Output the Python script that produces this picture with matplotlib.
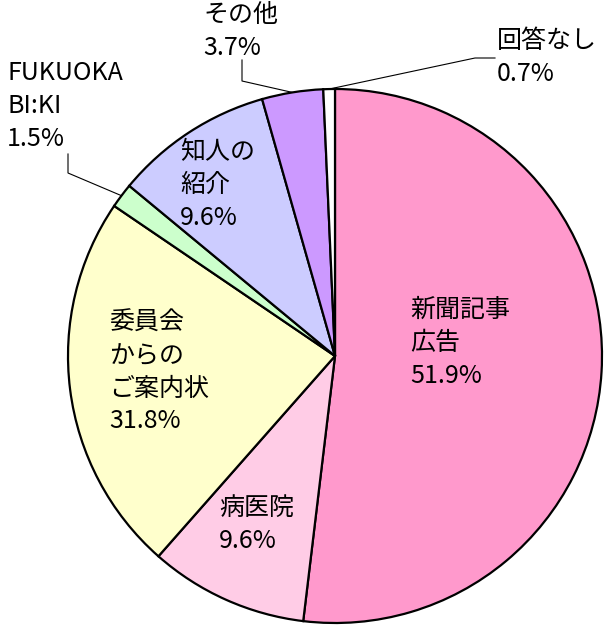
import matplotlib.pyplot as plt
import numpy as np

plt.rcParams['font.family'] = ['Noto Sans CJK JP', 'DejaVu Sans']

# slice values and the printed labels
names = ['新聞記事\n広告', '病医院', '委員会\nからの\nご案内状', 'FUKUOKA\nBI:KI',
         '知人の\n紹介', 'その他', '回答なし']
shares = [51.9, 9.6, 23.0, 1.5, 9.6, 3.7, 0.7]
pct_text = ['51.9%', '9.6%', '31.8%', '1.5%', '9.6%', '3.7%', '0.7%']
colors = ['#FF99CC', '#FFCCE6', '#FFFFCC', '#CCFFCC', '#CCCCFF', '#CC99FF', '#FFFFFF']

W, H = 605, 627
cx, cy, r = 335, H - 356, 267

# label top-left corners in pixel coords (y from top)
label_pos = [(410, 297), (219, 495), (109, 310), (7, 60), (180, 139), (203, 2), (497, 28)]
# leader line elbows for small slices: index -> list of points (y from top)
leaders = {3: [(68, 154), (68, 173)], 5: [(242, 60), (242, 81)], 6: [(495, 58), (475, 58)]}

fig = plt.figure(figsize=(W / 100, H / 100), dpi=100)
ax = fig.add_axes([0, 0, 1, 1])
wedges, _ = ax.pie(shares, colors=colors, startangle=90, counterclock=False,
                   center=(cx, cy), radius=r,
                   wedgeprops=dict(edgecolor='black', linewidth=1.6))
ax.set_xlim(0, W)
ax.set_ylim(0, H)
ax.set_aspect('equal')
ax.axis('off')

for i, (name, pct) in enumerate(zip(names, pct_text)):
    x, y = label_pos[i]
    ax.text(x, H - y, name + '\n' + pct, ha='left', va='top', fontsize=18,
            linespacing=1.34, color='black')

for i, pts in leaders.items():
    w = wedges[i]
    mid = np.deg2rad((w.theta1 + w.theta2) / 2)
    end = (cx + r * np.cos(mid), cy + r * np.sin(mid))
    xs = [p[0] for p in pts] + [end[0]]
    ys = [H - p[1] for p in pts] + [end[1]]
    ax.plot(xs, ys, color='black', linewidth=0.8, zorder=0.5)

fig.savefig('out.png', dpi=100)
